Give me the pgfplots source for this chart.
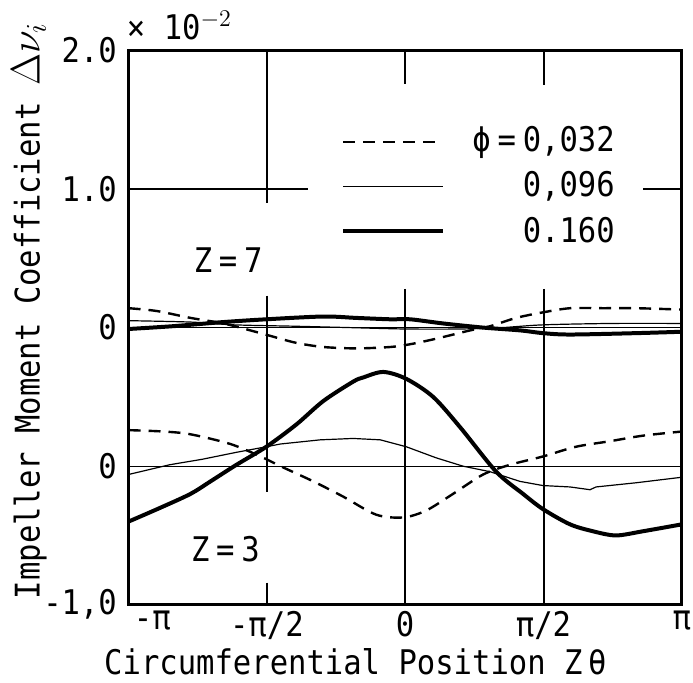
\documentclass[border=0pt]{standalone}
\usepackage{fontspec}
\setmainfont{DejaVu Sans Mono}[FakeStretch=0.9]
\usepackage{pgfplots}
\usepackage{pgfplotstable}
\pgfplotsset{compat=1.18}

\tikzset{
    dashA/.style={black, line width=1.2pt, dash pattern=on 6pt off 4pt},
    thinB/.style={black, line width=0.6pt},
    thickC/.style={black, line width=2pt},
}
\newcommand{\gap}{\hspace{0.2em}}

% x in units of pi, v in 1e-2
\pgfplotstableread{
x v
-1 0.26
-0.874 0.25
-0.776 0.23
-0.632 0.16
-0.523 0.07
-0.451 0.0
-0.332 -0.11
-0.224 -0.22
-0.105 -0.35
-0.007 -0.37
0.076 -0.32
0.173 -0.20
0.282 -0.06
0.379 0.01
0.498 0.07
0.617 0.14
0.740 0.18
0.859 0.22
1.0 0.25
}\zthreeA
\pgfplotstableread{
x v
-1 -0.06
-0.852 0.01
-0.733 0.05
-0.610 0.10
-0.502 0.14
-0.451 0.16
-0.307 0.19
-0.188 0.20
-0.090 0.19
0.004 0.14
0.112 0.06
0.209 0.0
0.307 -0.04
0.415 -0.11
0.498 -0.14
0.596 -0.15
0.668 -0.17
0.690 -0.15
0.834 -0.12
1.0 -0.08
}\zthreeB
\pgfplotstableread{
x v
-1 -0.40
-0.885 -0.30
-0.776 -0.20
-0.704 -0.11
-0.610 0.01
-0.502 0.14
-0.394 0.30
-0.296 0.47
-0.188 0.61
-0.152 0.64
-0.079 0.68
0.004 0.63
0.101 0.50
0.199 0.28
0.329 -0.04
0.426 -0.20
0.498 -0.31
0.596 -0.42
0.679 -0.47
0.762 -0.50
0.859 -0.47
1.0 -0.42
}\zthreeC
\pgfplotstableread{
x v
-1 0.14
-0.899 0.12
-0.776 0.07
-0.657 0.03
-0.560 -0.02
-0.487 -0.06
-0.394 -0.11
-0.296 -0.14
-0.177 -0.15
-0.054 -0.14
0.018 -0.12
0.112 -0.08
0.235 -0.02
0.307 0.01
0.401 0.07
0.498 0.11
0.596 0.14
0.715 0.14
0.834 0.14
1.0 0.13
}\zsevenA
\pgfplotstableread{
x v
-1 0.05
-0.776 0.04
-0.621 0.02
-0.4 0.01
-0.2 0.0
0.0 -0.01
0.2 -0.01
0.35 0.0
0.5 0.02
0.75 0.03
1.0 0.03
}\zsevenB
\pgfplotstableread{
x v
-1 -0.01
-0.841 0.01
-0.657 0.04
-0.502 0.06
-0.296 0.08
-0.177 0.07
-0.054 0.06
0.018 0.06
0.137 0.03
0.282 0.0
0.415 -0.02
0.498 -0.04
0.596 -0.05
0.834 -0.04
1.0 -0.03
}\zsevenC

\begin{document}
\fontsize{17}{20}\selectfont
\begin{tikzpicture}
\begin{axis}[
    scale only axis,
    width=277pt, height=277.5pt,
    clip mode=individual,
    xmin=-1, xmax=1, ymin=0, ymax=4,
    xtick={-1,-0.5,0,0.5,1},
    xticklabels={\hspace*{1.4em}-π,-π/2,0,π/2,π},
    ytick={0,1,2,3,4},
    yticklabels={{-1,0},0,0,1.0,2.0},
    xticklabel style={inner sep=1pt, yshift=-2pt},
    major tick length=0pt,
    axis line style={line width=1.5pt},
    xlabel={Circumferential Position Z\,θ},
    ylabel={Impeller Moment Coefficient\enspace{\fontsize{22}{26}\selectfont$\Delta\nu_{i}$}},
    xlabel style={at={(axis description cs:0.41,-0.102)}, anchor=center, inner sep=4pt},
    ylabel style={at={(axis description cs:-0.18,0.53)}, anchor=center},
]
% reference lines
\draw[line width=1pt] (axis cs:-0.5,4) -- (axis cs:-0.5,2.90);
\draw[line width=1pt] (axis cs:-0.5,2.23) -- (axis cs:-0.5,0.81);
\draw[line width=1pt] (axis cs:-0.5,0.16) -- (axis cs:-0.5,0);
\draw[line width=1pt] (axis cs:0,4) -- (axis cs:0,3.76);
\draw[line width=1pt] (axis cs:0,2.28) -- (axis cs:0,0);
\draw[line width=1pt] (axis cs:0.5,4) -- (axis cs:0.5,3.75);
\draw[line width=1pt] (axis cs:0.5,2.28) -- (axis cs:0.5,0);
\draw[line width=0.6pt] (axis cs:-1,3) -- (axis cs:-0.35,3);
\draw[line width=0.6pt] (axis cs:0.86,3) -- (axis cs:1,3);
\draw[line width=0.6pt] (axis cs:-1,2) -- (axis cs:1,2);
\draw[line width=0.6pt] (axis cs:-1,1) -- (axis cs:1,1);

% Z = 3 (zero at 1)
\addplot[dashA, smooth] table[x=x, y expr=\thisrow{v}+1] {\zthreeA};
\addplot[thinB] table[x=x, y expr=\thisrow{v}+1] {\zthreeB};
\addplot[thickC, smooth] table[x=x, y expr=\thisrow{v}+1] {\zthreeC};
% Z = 7 (zero at 2)
\addplot[dashA, smooth] table[x=x, y expr=\thisrow{v}+2] {\zsevenA};
\addplot[thinB, smooth] table[x=x, y expr=\thisrow{v}+2] {\zsevenB};
\addplot[thickC, smooth] table[x=x, y expr=\thisrow{v}+2] {\zsevenC};

% legend
\draw[dashA] (axis cs:-0.224,3.34) -- (axis cs:0.137,3.34);
\draw[thinB] (axis cs:-0.224,3.02) -- (axis cs:0.137,3.02);
\draw[thickC] (axis cs:-0.224,2.70) -- (axis cs:0.137,2.70);
\node[anchor=east] at (axis cs:0.80,3.34) {ϕ\gap=\gap0,032};
\node[anchor=east] at (axis cs:0.80,3.02) {0,096};
\node[anchor=east] at (axis cs:0.80,2.70) {0.160};

\node at (axis cs:-0.64,2.49) {Z\gap=\gap7};
\node at (axis cs:-0.65,0.40) {Z\gap=\gap3};
\node at (axis description cs:0.092,1.045) {× 10$^{-2}$};
\end{axis}
\end{tikzpicture}
\end{document}
